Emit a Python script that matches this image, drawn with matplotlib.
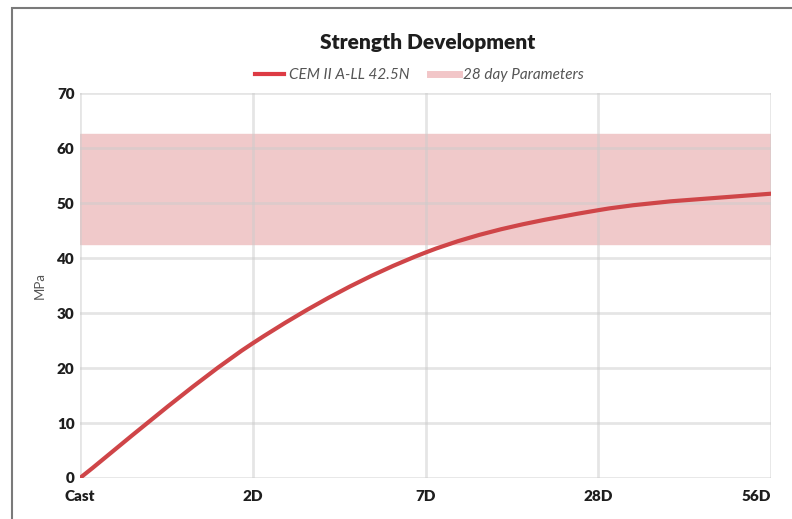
import matplotlib.pyplot as plt
from matplotlib.path import Path
from matplotlib.patches import PathPatch, Rectangle
from matplotlib.lines import Line2D

# Data
ages = ["Cast", "2D", "7D", "28D", "56D"]
strength = [0, 24.5, 41.0, 48.7, 51.7]
band_low = 42.5
band_high = 62.5

plt.rcParams['font.family'] = ['Lato', 'DejaVu Sans']

fig = plt.figure(figsize=(7.92, 5.19), dpi=100)
ax = fig.add_axes([0.101, 0.079, 0.8725, 0.7417])

# grey frame around the whole picture
fig.patches.append(Rectangle((12 / 792, -0.1), 1.2, 1 - 8 / 519 + 0.1,
                             transform=fig.transFigure, fill=False,
                             edgecolor="#7a7a7a", linewidth=1.5))

x = list(range(len(ages)))

# smooth curve through the points (Catmull-Rom as cubic bezier)
verts = [(x[0], strength[0])]
codes = [Path.MOVETO]
n = len(x)
for i in range(n - 1):
    p0 = (x[max(i - 1, 0)], strength[max(i - 1, 0)])
    p1 = (x[i], strength[i])
    p2 = (x[i + 1], strength[i + 1])
    p3 = (x[min(i + 2, n - 1)], strength[min(i + 2, n - 1)])
    c1 = (p1[0] + (p2[0] - p0[0]) / 6, p1[1] + (p2[1] - p0[1]) / 6)
    c2 = (p2[0] - (p3[0] - p1[0]) / 6, p2[1] - (p3[1] - p1[1]) / 6)
    verts += [c1, c2, p2]
    codes += [Path.CURVE4] * 3

ax.axhspan(band_low, band_high, color="#f0c9ca", zorder=1)
ax.add_patch(PathPatch(Path(verts, codes), fill=False, edgecolor="#cf4548",
                       linewidth=3, zorder=4, capstyle="round"))

ax.set_xlim(0, len(ages) - 1)
ax.set_ylim(0, 70)
ax.set_xticks(x)
ax.set_xticklabels(ages)
ax.set_yticks(range(0, 71, 10))
ax.grid(True, color="#cccccc", alpha=0.5, linewidth=2, zorder=2)
ax.set_axisbelow(False)
for s in ax.spines.values():
    s.set_visible(False)
ax.tick_params(length=0, labelsize=11, labelcolor="#1e1e1e")
for lab in ax.get_xticklabels() + ax.get_yticklabels():
    lab.set_fontweight("heavy")
# last label kept inside the chart area
ax.get_xticklabels()[-1].set_horizontalalignment("right")
ax.tick_params(axis="x", pad=9)
ax.tick_params(axis="y", pad=4)

ax.set_ylabel("MPa", color="#555555", fontsize=9.5, labelpad=8)

fig.text(0.54, 0.918, "Strength Development", ha="center", va="center",
         fontsize=15, fontweight="heavy", color="#1e1e1e")

handles = [Line2D([], [], color="#dd3b44", linewidth=3),
           Line2D([], [], color="#f2c6c8", linewidth=5)]
fig.legend(handles, ["CEM II A-LL 42.5N", "28 day Parameters"],
           loc="center", bbox_to_anchor=(0.53, 0.855), ncol=2, frameon=False,
           prop={"style": "italic", "size": 11}, labelcolor="#555555",
           handlelength=1.9, handletextpad=0.3, columnspacing=1.3)

fig.savefig("out.png", dpi=100)
